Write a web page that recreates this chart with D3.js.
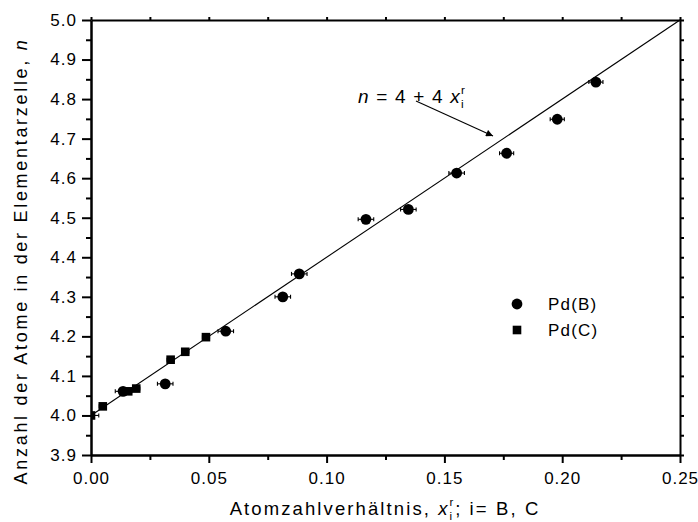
<!DOCTYPE html>
<html>
<head>
<meta charset="utf-8">
<script src="https://cdn.jsdelivr.net/npm/d3@7"></script>
<style>
  body { margin: 0; background: #fff; }
  svg { display: block; font-family: "Liberation Sans", Arial, sans-serif; }
  .axis path, .axis line { stroke: #000; stroke-width: 2; }
  .axis text { font-size: 17px; fill: #000; letter-spacing: 1px; }
</style>
</head>
<body>
<div id="chart"></div>
<script>
// Data
var pdB_x = [0.0136, 0.0315, 0.0572, 0.0814, 0.0884, 0.1167, 0.1347, 0.1552, 0.1764, 0.1979, 0.2143];
var pdB_n = [4.061, 4.080, 4.213, 4.300, 4.358, 4.496, 4.521, 4.613, 4.663, 4.749, 4.843];
var pdB_err = [0.0033, 0.0033, 0.0033, 0.0033, 0.0033, 0.0033, 0.0033, 0.0033, 0.0030, 0.0030, 0.0030];

var pdC_x = [0.000, 0.005, 0.0158, 0.0192, 0.0338, 0.0400, 0.0488];
var pdC_n = [4.000, 4.023, 4.061, 4.068, 4.141, 4.161, 4.198];
var pdC_err = [0.0033, 0.0015, 0.0015, 0.0015, 0.0015, 0.0015, 0.0015];

var xMajor = [0, 0.05, 0.10, 0.15, 0.20, 0.25];
var xMinor = [0.025, 0.075, 0.125, 0.175, 0.225];
var yMajor = [3.9, 4.0, 4.1, 4.2, 4.3, 4.4, 4.5, 4.6, 4.7, 4.8, 4.9, 5.0];
var yMinor = [3.95, 4.05, 4.15, 4.25, 4.35, 4.45, 4.55, 4.65, 4.75, 4.85, 4.95];

// fit line n = 4 + 4 x
var fitX = [0, 0.25];

var svgWidth = 698;
var svgHeight = 522;

var margin = { top: 20, right: 18, bottom: 67, left: 91 };
var width = svgWidth - margin.left - margin.right;
var height = svgHeight - margin.top - margin.bottom;

var svg = d3.select("#chart")
    .append("svg")
    .attr("width", svgWidth)
    .attr("height", svgHeight);

var chartgroup = svg.append("g")
    .attr("transform", `translate(${margin.left}, ${margin.top})`);

var x = d3.scaleLinear().domain([0, 0.25]).range([0, width]);
var y = d3.scaleLinear().domain([3.9, 5.0]).range([height, 0]);

chartgroup.append("clipPath")
    .attr("id", "plotclip")
    .append("rect")
    .attr("width", width)
    .attr("height", height);

// Axes: bottom and left with outward ticks, top and right with small inward ticks
chartgroup.append("g").attr("class", "axis")
    .attr("transform", `translate(0, ${height})`)
    .call(d3.axisBottom(x).tickValues(xMinor).tickSize(5).tickSizeOuter(0).tickFormat(""));

chartgroup.append("g").attr("class", "axis")
    .attr("transform", `translate(0, ${height})`)
    .call(d3.axisBottom(x).tickValues(xMajor).tickSize(8).tickSizeOuter(0).tickPadding(9)
        .tickFormat(d3.format(".2f")));

chartgroup.append("g").attr("class", "axis")
    .call(d3.axisLeft(y).tickValues(yMinor).tickSize(5).tickSizeOuter(0).tickFormat(""));

chartgroup.append("g").attr("class", "axis")
    .call(d3.axisLeft(y).tickValues(yMajor).tickSize(9).tickSizeOuter(0).tickPadding(5)
        .tickFormat(d3.format(".1f")));

chartgroup.append("g").attr("class", "axis")
    .call(d3.axisBottom(x).tickValues(xMinor.concat(xMajor)).tickSize(-3).tickSizeOuter(0).tickFormat(""));

chartgroup.append("g").attr("class", "axis")
    .attr("transform", `translate(${width}, 0)`)
    .call(d3.axisLeft(y).tickValues(yMinor.concat(yMajor)).tickSize(-4).tickSizeOuter(0).tickFormat(""));

// Fit line
chartgroup.append("line")
    .attr("x1", x(fitX[0])).attr("y1", y(4 + 4 * fitX[0]))
    .attr("x2", x(fitX[1])).attr("y2", y(4 + 4 * fitX[1]))
    .attr("stroke", "#000")
    .attr("stroke-width", 1.1);

var plot = chartgroup.append("g").attr("clip-path", "url(#plotclip)");

function drawErrors(xs, ns, errs) {
  xs.forEach(function(d, i) {
    var g = plot.append("g").attr("stroke", "#000").attr("stroke-width", 1.1);
    g.append("line")
        .attr("x1", x(d - errs[i])).attr("x2", x(d + errs[i]))
        .attr("y1", y(ns[i])).attr("y2", y(ns[i]));
    [d - errs[i], d + errs[i]].forEach(function(e) {
      g.append("line")
          .attr("x1", x(e)).attr("x2", x(e))
          .attr("y1", y(ns[i]) - 2).attr("y2", y(ns[i]) + 2);
    });
  });
}

drawErrors(pdB_x, pdB_n, pdB_err);
drawErrors(pdC_x, pdC_n, pdC_err);

// Pd(B) circles
plot.selectAll("circle.pdb")
    .data(pdB_x)
    .enter()
    .append("circle")
    .attr("class", "pdb")
    .attr("cx", d => x(d))
    .attr("cy", (d, i) => y(pdB_n[i]))
    .attr("r", 5.4)
    .attr("fill", "#000");

// Pd(C) squares
var sq = 8.6;
plot.selectAll("rect.pdc")
    .data(pdC_x)
    .enter()
    .append("rect")
    .attr("class", "pdc")
    .attr("x", d => x(d) - sq / 2)
    .attr("y", (d, i) => y(pdC_n[i]) - sq / 2)
    .attr("width", sq)
    .attr("height", sq)
    .attr("fill", "#000");

// Legend
var legend = svg.append("g").attr("font-size", "17px").attr("letter-spacing", "1.2px");
legend.append("circle").attr("cx", 517).attr("cy", 304).attr("r", 5.4).attr("fill", "#000");
legend.append("rect").attr("x", 517 - sq / 2).attr("y", 330 - sq / 2)
    .attr("width", sq).attr("height", sq).attr("fill", "#000");
legend.append("text").attr("x", 548).attr("y", 310).text("Pd(B)");
legend.append("text").attr("x", 548).attr("y", 336).text("Pd(C)");

// Text with x_i^r, built from pieces
function indexedText(parent, x0, y0, size, ls, before, after) {
  var g = parent.append("g").attr("font-size", size + "px").attr("letter-spacing", ls + "px");
  var t1 = g.append("text").attr("x", x0).attr("y", y0);
  before.forEach(function(p) {
    t1.append("tspan").attr("font-style", p[1] ? "italic" : "normal").text(p[0]);
  });
  var w = t1.node().getComputedTextLength();
  g.append("text").attr("x", x0 + w).attr("y", y0 + size * 0.28)
      .attr("font-size", (size * 0.62) + "px").attr("letter-spacing", "0px").text("i");
  g.append("text").attr("x", x0 + w).attr("y", y0 - size * 0.48)
      .attr("font-size", (size * 0.62) + "px").attr("letter-spacing", "0px").text("r");
  if (after) {
    g.append("text").attr("x", x0 + w + size * 0.3).attr("y", y0).text(after);
  }
  return g;
}

// Annotation and arrow
indexedText(svg, 358, 103, 19, 1.2, [["n", true], [" = 4 + 4 ", false], ["x", true]], null);

svg.append("defs").append("marker")
    .attr("id", "arrow")
    .attr("viewBox", "0 0 10 10")
    .attr("refX", 10).attr("refY", 5)
    .attr("markerWidth", 10).attr("markerHeight", 7)
    .attr("markerUnits", "userSpaceOnUse")
    .attr("orient", "auto")
    .append("path")
    .attr("d", "M0,0 L10,5 L0,10 Z")
    .attr("fill", "#000");

svg.append("line")
    .attr("x1", 416).attr("y1", 101)
    .attr("x2", 493).attr("y2", 136)
    .attr("stroke", "#000")
    .attr("stroke-width", 1.1)
    .attr("marker-end", "url(#arrow)");

// X axis title
var xt = indexedText(svg, 0, 515, 18.5, 2.1, [["Atomzahlverhältnis, ", false], ["x", true]], "; i= B, C");
var bb = xt.node().getBBox();
xt.attr("transform", `translate(${385 - bb.width / 2}, 0)`);

// Y axis title
svg.append("g")
    .attr("transform", "translate(27, 261) rotate(-90)")
    .append("text")
    .attr("text-anchor", "middle")
    .attr("font-size", "18px")
    .attr("letter-spacing", "2.7px")
    .html('Anzahl der Atome in der Elementarzelle, <tspan font-style="italic">n</tspan>');
</script>
</body>
</html>
